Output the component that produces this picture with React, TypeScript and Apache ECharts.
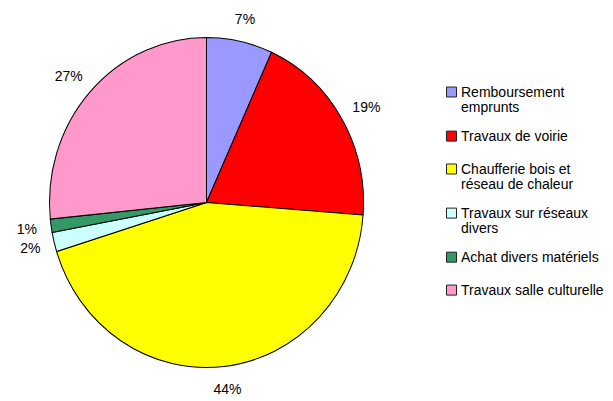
import React, { useEffect, useRef } from "react";
import * as echarts from "echarts";

const categories = [
  "Remboursement\nemprunts",
  "Travaux de voirie",
  "Chaufferie bois et\nréseau de chaleur",
  "Travaux sur réseaux\ndivers",
  "Achat divers matériels",
  "Travaux salle culturelle",
];
const values = [6.8, 19.4, 44.0, 1.9, 1.3, 26.6];
const colors = ["#9999FF", "#FF0000", "#FFFF00", "#CCFFFF", "#339966", "#FF99CC"];

const FONT = '14px "Liberation Sans", Arial, sans-serif';

export default function App() {
  const ref = useRef<HTMLDivElement>(null);
  useEffect(() => {
    if (!ref.current) return;
    const chart = echarts.init(ref.current, undefined, { renderer: "svg" });
    const total = values.reduce((a, b) => a + b, 0);
    const cum: number[] = [0];
    values.forEach((v, i) => cum.push(cum[i] + v));

    const CX = 206.5, CY = 202.5, RX = 157, RY = 165, GAP = 16;

    const legendEls: any[] = [];
    let yc = 92;
    categories.forEach((name, i) => {
      const lines = name.split("\n").length;
      legendEls.push({
        type: "rect",
        shape: { x: 446.5, y: yc - 5, width: 10, height: 10 },
        style: { fill: colors[i], stroke: "#222", lineWidth: 1 },
      });
      legendEls.push({
        type: "text",
        x: 461,
        y: yc - 7.5,
        style: {
          text: name,
          font: FONT,
          fill: "#000",
          verticalAlign: "top",
          align: "left",
          lineHeight: 15,
        },
      });
      yc += lines * 11.2 + 21.7;
    });

    chart.setOption({
      animation: false,
      backgroundColor: "#fff",
      graphic: legendEls,
      series: [
        {
          type: "custom",
          coordinateSystem: "none",
          data: values.map((v) => [v]),
          renderItem: (params: any, api: any) => {
            const i = params.dataIndex;
            const v = api.value(0);
            const f0 = cum[i] / total;
            const f1 = (cum[i] + v) / total;
            const a0 = -Math.PI / 2 + f0 * Math.PI * 2;
            const a1 = -Math.PI / 2 + f1 * Math.PI * 2;
            const phi = ((f0 + f1) / 2) * Math.PI * 2;
            const pct = Math.round((v / total) * 100) + "%";
            const w = pct.length * 8.5;
            const h = 14;
            const lx = CX + (RX + GAP + w / 2) * Math.sin(phi);
            const ly = CY - (RY + GAP + h / 2) * Math.cos(phi);
            return {
              type: "group",
              children: [
                {
                  type: "group",
                  x: CX,
                  y: CY,
                  scaleY: RY / RX,
                  children: [
                    {
                      type: "sector",
                      shape: { cx: 0, cy: 0, r: RX, r0: 0, startAngle: a0, endAngle: a1, clockwise: true },
                      style: { fill: colors[i], stroke: "#000", lineWidth: 1, strokeNoScale: true },
                    },
                  ],
                },
                {
                  type: "text",
                  x: lx,
                  y: ly,
                  style: { text: pct, font: FONT, fill: "#000", align: "center", verticalAlign: "middle" },
                },
              ],
            };
          },
        },
      ],
    });
    return () => chart.dispose();
  }, []);
  return (
    <div
      ref={ref}
      style={{ position: "fixed", left: 0, top: 0, width: 613, height: 401, background: "#fff" }}
    />
  );
}
